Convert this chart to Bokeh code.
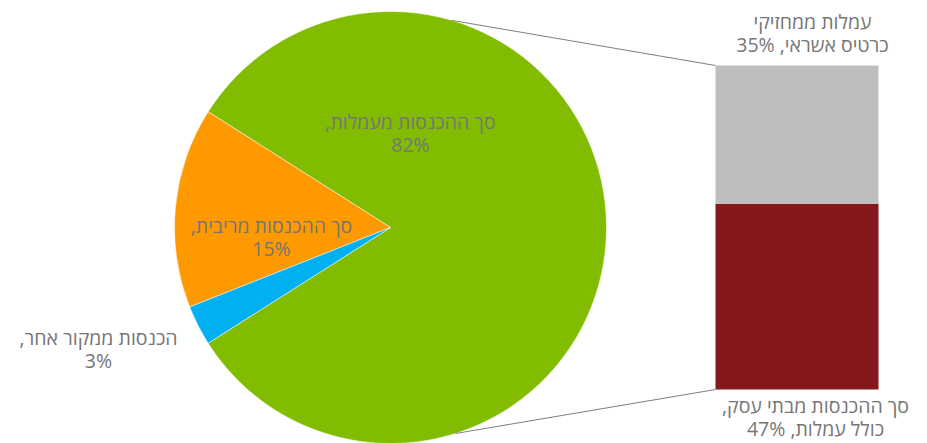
import math
from bokeh.plotting import figure
from bokeh.models import Range1d, ColumnDataSource
from bokeh.core.properties import value
from bokeh.embed import file_html
from bokeh.resources import INLINE

# ---- data ----
pie_names = ["סך ההכנסות מעמלות", "סך ההכנסות מריבית", "הכנסות ממקור אחר"]
pie_values = [82, 15, 3]
pie_colors = ["#82BC00", "#FF9900", "#00B0F0"]

bar_names = ["סך ההכנסות מבתי עסק, כולל עמלות", "עמלות ממחזיקי כרטיס אשראי"]
bar_values = [47, 35]
bar_colors = ["#86171A", "#BDBEC0"]

label_lines = [
    ["סך ההכנסות מעמלות,", "82%"],
    ["סך ההכנסות מריבית,", "15%"],
    ["הכנסות ממקור אחר,", "3%"],
    ["סך ההכנסות מבתי עסק,", "כולל עמלות, 47%"],
    ["עמלות ממחזיקי", "כרטיס אשראי, 35%"],
]

W, H = 927, 443
TEXT_COLOR = "#767676"
FONT = "Open Sans"

p = figure(width=W, height=H, output_backend="svg", toolbar_location=None,
           x_range=Range1d(0, W), y_range=Range1d(0, H),
           min_border=0, outline_line_color=None)
p.axis.visible = False
p.grid.visible = False
p.background_fill_color = "white"
p.border_fill_color = "white"

def sy(y):
    return H - y

# ---- pie ----
cx, cy, r = 390, sy(227), 216
total = sum(pie_values)
fracs = [v / total for v in pie_values]
starts, ends = [], []
a = -fracs[0] * math.pi  # first slice centred on the right
for f in fracs:
    starts.append(a)
    ends.append(a + f * 2 * math.pi)
    a += f * 2 * math.pi
pie_src = ColumnDataSource(dict(start=starts, end=ends, color=pie_colors))
p.wedge(x=cx, y=cy, radius=r, start_angle="start", end_angle="end",
        fill_color="color", line_color="white", line_width=0.5, source=pie_src)

# ---- bar ----
bar_left, bar_right = 715, 878
bar_bottom = sy(389)
bar_top = sy(65)
k = (bar_top - bar_bottom) / sum(bar_values)
bottoms, tops = [], []
b = bar_bottom
for v in bar_values:
    bottoms.append(b)
    tops.append(b + v * k)
    b += v * k
bar_src = ColumnDataSource(dict(bottom=bottoms, top=tops, color=bar_colors))
p.quad(left=bar_left, right=bar_right, bottom="bottom", top="top",
       fill_color="color", line_color=None, source=bar_src)

# ---- connector lines ----
ang_top = math.radians(73.5)
ang_bot = math.radians(-72.5)
p.line([cx + r * math.cos(ang_top), bar_left], [cy + r * math.sin(ang_top), bar_top],
       line_color="#7F7F7F", line_width=1)
p.line([cx + r * math.cos(ang_bot), bar_left], [cy + r * math.sin(ang_bot), bar_bottom],
       line_color="#7F7F7F", line_width=1)

# ---- labels ----
label_pos = [(410, 121), (271, 225), (98, 337), (815, 405), (812, 21)]
LINE_H = 23
xs, ys, txt = [], [], []
for (x, y), lines in zip(label_pos, label_lines):
    for i, line in enumerate(lines):
        xs.append(x)
        ys.append(sy(y + i * LINE_H))
        txt.append("\u2067" + line + "\u2069")
lab_src = ColumnDataSource(dict(x=xs, y=ys, text=txt))
p.text(x="x", y="y", text="text", source=lab_src, text_align="center",
       text_baseline="middle", text_color=TEXT_COLOR, text_font=value(FONT),
       text_font_size="19.5px")

open("out.html", "w").write(file_html(p, INLINE))
